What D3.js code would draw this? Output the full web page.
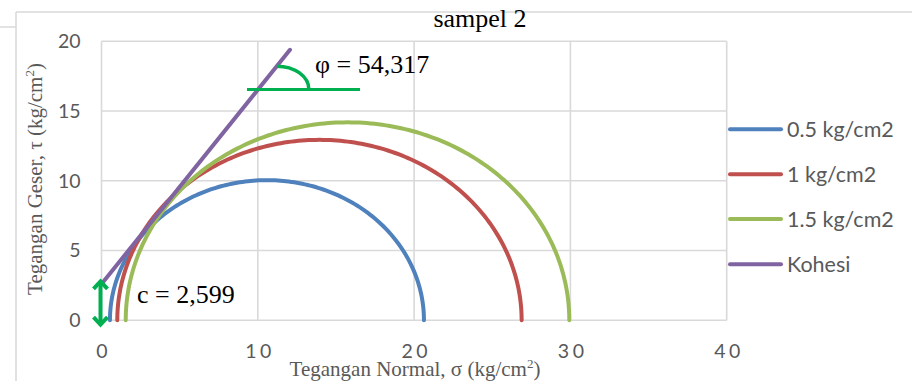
<!DOCTYPE html>
<html>
<head>
<meta charset="utf-8">
<script src="https://cdn.jsdelivr.net/npm/d3@7"></script>
<style>
  html, body { margin: 0; padding: 0; background: #fff; }
  svg { display: block; }
</style>
</head>
<body>
<svg id="chart" width="912" height="381"></svg>
<script>
// ---- data ----
const seriesNames = ["0.5 kg/cm2", "1 kg/cm2", "1.5 kg/cm2"];
const sigma3 = [0.54, 1.01, 1.55];     // left end of each Mohr circle
const sigma1 = [20.63, 26.88, 29.93];  // right end of each Mohr circle
const kohesiName = "Kohesi";
const kohesiX = [0, 12.06];
const kohesiY = [2.599, 19.39];
const cohesion = 2.599;
const phiDeg = 54.317;
const xTicks = [0, 10, 20, 30, 40];
const yTicks = [0, 5, 10, 15, 20];
const colors = ["#4f81bd", "#c0504d", "#9bbb59", "#8064a2"];
const annoGreen = "#00b050";
const gridColor = "#d9d9d9";

(function () {
const svg = d3.select("#chart");

// outer frame lines
svg.append("line").attr("x1", 16).attr("y1", 12).attr("x2", 912).attr("y2", 12)
  .attr("stroke", gridColor).attr("stroke-width", 1.5);
svg.append("line").attr("x1", 16).attr("y1", 12).attr("x2", 16).attr("y2", 381)
  .attr("stroke", gridColor).attr("stroke-width", 1.5);
svg.append("line").attr("x1", 0).attr("y1", 27).attr("x2", 16).attr("y2", 27)
  .attr("stroke", gridColor).attr("stroke-width", 1.5);

const x = d3.scaleLinear().domain([0, 40]).range([101.5, 726.7]);
const y = d3.scaleLinear().domain([0, 20]).range([320.3, 41.3]);

// grid
const grid = svg.append("g");
grid.selectAll("line.v").data(xTicks).join("line").attr("class", "v")
  .attr("x1", d => x(d)).attr("x2", d => x(d)).attr("y1", y(0)).attr("y2", y(20))
  .attr("stroke", gridColor).attr("stroke-width", 1.6);
grid.selectAll("line.h").data(yTicks).join("line").attr("class", "h")
  .attr("y1", d => y(d)).attr("y2", d => y(d)).attr("x1", x(0)).attr("x2", x(40))
  .attr("stroke", gridColor).attr("stroke-width", 1.6);

// axes (labels only)
const xAxis = svg.append("g").attr("transform", `translate(0,${y(0)})`)
  .call(d3.axisBottom(x).tickValues(xTicks).tickSize(0).tickPadding(23.5).tickFormat(d3.format("d")));
xAxis.select(".domain").remove();
xAxis.selectAll("text").attr("font-family", "Lato, 'Open Sans', sans-serif")
  .attr("font-size", 19.5).attr("fill", "#595959").attr("letter-spacing", "3.5px").attr("dx", "1.75");

const yAxis = svg.append("g").attr("transform", `translate(${x(0)},0)`)
  .call(d3.axisLeft(y).tickValues(yTicks).tickSize(0).tickPadding(21).tickFormat(d3.format("d")));
yAxis.select(".domain").remove();
yAxis.selectAll("text").attr("font-family", "Lato, 'Open Sans', sans-serif")
  .attr("font-size", 19.5).attr("fill", "#595959");

// Mohr circles
const line = d3.line().x(d => x(d[0])).y(d => y(d[1])).curve(d3.curveLinear);
const angles = d3.range(0, 181).map(a => a * Math.PI / 180);
seriesNames.forEach((name, i) => {
  const c = (sigma3[i] + sigma1[i]) / 2, r = (sigma1[i] - sigma3[i]) / 2;
  const pts = angles.map(t => [c - r * Math.cos(t), r * Math.sin(t)]);
  svg.append("path").datum(pts).attr("d", line).attr("fill", "none")
    .attr("stroke", colors[i]).attr("stroke-width", 4).attr("stroke-linecap", "round");
});

// Kohesi line
svg.append("path").datum(kohesiX.map((v, i) => [v, kohesiY[i]])).attr("d", line)
  .attr("fill", "none").attr("stroke", colors[3]).attr("stroke-width", 4).attr("stroke-linecap", "round");

// --- annotations (green) ---
const ann = svg.append("g").attr("stroke", annoGreen).attr("fill", "none");
const hY = 16.55;
ann.append("line").attr("x1", x(9.31)).attr("x2", x(16.54)).attr("y1", y(hY)).attr("y2", y(hY))
  .attr("stroke-width", 3);
const arcCx = (hY + 1.67 - cohesion) / Math.tan(phiDeg * Math.PI / 180);
const rx = x(arcCx + 2.05) - x(arcCx), ry = y(hY) - y(hY + 1.67);
ann.append("path")
  .attr("d", `M${x(arcCx)},${y(hY) - ry} A${rx},${ry} 0 0 1 ${x(arcCx) + rx},${y(hY)}`)
  .attr("stroke-width", 3.5);
const ax = x(0) - 1;
const arrTop = y(2.9), arrBot = y(-0.42);
ann.append("line").attr("x1", ax).attr("x2", ax).attr("y1", arrTop + 2).attr("y2", arrBot - 2).attr("stroke-width", 4);
ann.append("polyline").attr("points", `${ax - 7},${arrTop + 9} ${ax},${arrTop + 1.5} ${ax + 7},${arrTop + 9}`)
  .attr("stroke-width", 4).attr("stroke-linejoin", "miter");
ann.append("polyline").attr("points", `${ax - 7},${arrBot - 9} ${ax},${arrBot - 1.5} ${ax + 7},${arrBot - 9}`)
  .attr("stroke-width", 4).attr("stroke-linejoin", "miter");

svg.append("text").attr("x", 315).attr("y", 73)
  .attr("font-family", "'Liberation Serif', 'Times New Roman', serif").attr("font-size", 26)
  .attr("fill", "#000").text("φ = " + d3.format(".3f")(phiDeg).replace(".", ","));
svg.append("text").attr("x", 137).attr("y", 303)
  .attr("font-family", "'Liberation Serif', 'Times New Roman', serif").attr("font-size", 26)
  .attr("fill", "#000").text("c = " + d3.format(".3f")(cohesion).replace(".", ","));

// title
svg.append("text").attr("x", 480).attr("y", 27).attr("text-anchor", "middle")
  .attr("font-family", "'Liberation Serif', 'Times New Roman', serif").attr("font-size", 26)
  .attr("fill", "#000").text("sampel 2");

// axis titles
const xt = svg.append("text").attr("x", 415).attr("y", 375.5).attr("text-anchor", "middle")
  .attr("font-family", "'Liberation Serif', 'Times New Roman', serif").attr("font-size", 21)
  .attr("fill", "#595959");
xt.append("tspan").text("Tegangan Normal, σ (kg/cm");
xt.append("tspan").attr("font-size", 13).attr("dy", -8).text("2");
xt.append("tspan").attr("dy", 8).text(")");

const yt = svg.append("text").attr("transform", `translate(42,179) rotate(-90)`).attr("text-anchor", "middle")
  .attr("font-family", "'Liberation Serif', 'Times New Roman', serif").attr("font-size", 21)
  .attr("fill", "#595959");
yt.append("tspan").text("Tegangan Geser, τ (kg/cm");
yt.append("tspan").attr("font-size", 13).attr("dy", -8).text("2");
yt.append("tspan").attr("dy", 8).text(")");

// legend
const legendNames = seriesNames.concat([kohesiName]);
const legendY = [129.3, 174.3, 219, 264.3];
const lg = svg.append("g");
legendNames.forEach((n, i) => {
  lg.append("line").attr("x1", 730).attr("x2", 781).attr("y1", legendY[i]).attr("y2", legendY[i])
    .attr("stroke", colors[i]).attr("stroke-width", 4).attr("stroke-linecap", "round");
  lg.append("text").attr("x", 787).attr("y", legendY[i]).attr("dy", "0.35em")
    .attr("font-family", "Lato, 'Open Sans', sans-serif").attr("font-size", 21.5)
    .attr("fill", "#595959").text(n);
});
})();
</script>
</body>
</html>
